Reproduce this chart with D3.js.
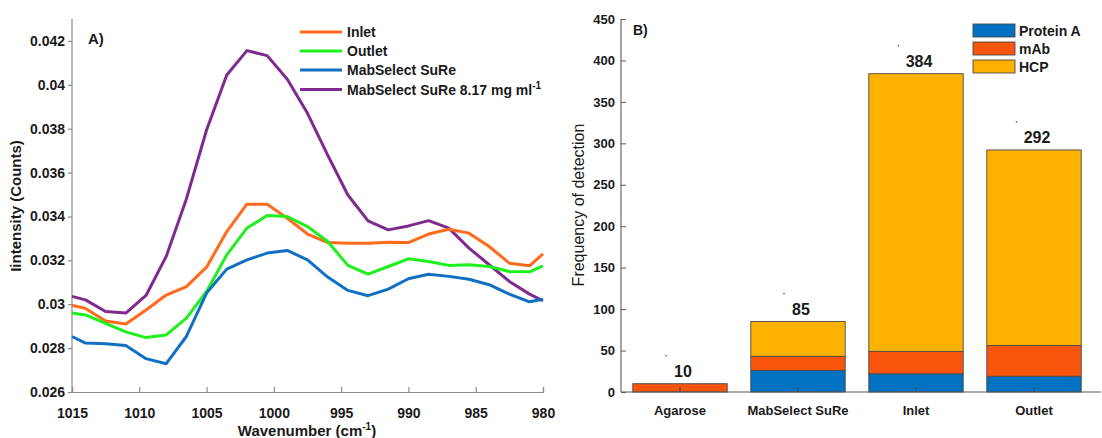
<!DOCTYPE html>
<html>
<head>
<meta charset="utf-8">
<script src="https://cdn.jsdelivr.net/npm/d3@7"></script>
<style>
  html, body { margin: 0; padding: 0; background: #fff; }
  svg { display: block; font-family: "Liberation Sans", Arial, sans-serif; }
  text { fill: #1a1a1a; }
</style>
</head>
<body>
<svg id="chart" width="1102" height="438"></svg>
<script>
// ---------- Panel A data ----------
const wavenumbers = [1015, 1014, 1012.5, 1011, 1009.5, 1008, 1006.5, 1005, 1003.5, 1002, 1000.5, 999,
  997.5, 996, 994.5, 993, 991.5, 990, 988.5, 987, 985.5, 984, 982.5, 981, 980];
const inlet = [0.02995, 0.02981, 0.02924, 0.02910, 0.02974, 0.03042, 0.03080, 0.03169, 0.03331, 0.03456, 0.03456, 0.03392,
  0.03320, 0.03281, 0.03278, 0.03278, 0.03283, 0.03281, 0.03320, 0.03342, 0.03324, 0.03263, 0.03187, 0.03175, 0.03230];
const outlet = [0.02960, 0.02951, 0.02913, 0.02874, 0.02848, 0.02860, 0.02937, 0.03058, 0.03225, 0.03347, 0.03404, 0.03400,
  0.03354, 0.03286, 0.03177, 0.03137, 0.03172, 0.03207, 0.03195, 0.03177, 0.03180, 0.03172, 0.03149, 0.03148, 0.03175];
const mabSelect = [0.02853, 0.02823, 0.02820, 0.02812, 0.02752, 0.02729, 0.02853, 0.03051, 0.03160, 0.03202, 0.03233, 0.03245,
  0.03202, 0.03124, 0.03063, 0.03039, 0.03069, 0.03116, 0.03137, 0.03127, 0.03114, 0.03089, 0.03046, 0.03011, 0.03023];
const mabSelectLoaded = [0.03036, 0.03020, 0.02967, 0.02960, 0.03040, 0.03218, 0.03480, 0.03794, 0.04045, 0.04156, 0.04133, 0.04025,
  0.03870, 0.03680, 0.03498, 0.03380, 0.03339, 0.03357, 0.03381, 0.03347, 0.03256, 0.03180, 0.03104, 0.03046, 0.03016];
const seriesNames = ["Inlet", "Outlet", "MabSelect SuRe", "MabSelect SuRe 8.17 mg ml"];
const seriesColors = ["#FF6A1C", "#1DF01D", "#1170C2", "#7E2A8E"];
const xTicksA = [1015, 1010, 1005, 1000, 995, 990, 985, 980];
const yTicksA = [0.026, 0.028, 0.03, 0.032, 0.034, 0.036, 0.038, 0.04, 0.042];
const yTickLabelsA = ["0.026", "0.028", "0.03", "0.032", "0.034", "0.036", "0.038", "0.04", "0.042"];

// ---------- Panel B data ----------
const categories = ["Agarose", "MabSelect SuRe", "Inlet", "Outlet"];
const proteinA = [0, 26, 22, 19];
const mAb = [10, 17, 27, 37];
const hcp = [0, 42, 335, 236];
const totals = [10, 85, 384, 292];
const stackKeys = ["Protein A", "mAb", "HCP"];
const stackColors = ["#0072C1", "#F8540C", "#FDB100"];
const yTicksB = [0, 50, 100, 150, 200, 250, 300, 350, 400, 450];

const svg = d3.select("#chart");
const axisGray = "#8a8a8a";

// ================= Panel A =================
const xA = d3.scaleLinear().domain([1015, 980]).range([72, 543]);
const yA = d3.scaleLinear().domain([0.026, 0.043]).range([392, 19]);
const gA = svg.append("g");

// axes
const xAxisA = d3.axisBottom(xA).tickValues(xTicksA).tickSize(-5).tickFormat(d3.format("d"));
const gxA = gA.append("g").attr("transform", "translate(0,392)").call(xAxisA);
gxA.select(".domain").attr("stroke", axisGray).attr("stroke-width", 1.2);
gxA.selectAll(".tick line").attr("stroke", axisGray).attr("stroke-width", 1.2);
gxA.selectAll(".tick text").attr("y", 16).attr("dy", "0.71em")
  .attr("font-size", 14).attr("font-weight", "bold").attr("fill", "#1a1a1a");

const yAxisA = d3.axisLeft(yA).tickValues(yTicksA).tickSize(4).tickPadding(3)
  .tickFormat((d, i) => yTickLabelsA[i]);
const gyA = gA.append("g").attr("transform", "translate(72,0)").call(yAxisA);
gyA.select(".domain").attr("stroke", axisGray).attr("stroke-width", 1.2).attr("d", "M0,392V19");
gyA.selectAll(".tick line").attr("stroke", axisGray).attr("stroke-width", 1.2);
gyA.selectAll(".tick text").attr("font-size", 14).attr("font-weight", "bold").attr("fill", "#1a1a1a");

// lines
const allSeries = [inlet, outlet, mabSelect, mabSelectLoaded];
const lineGen = d3.line().x((d, i) => xA(wavenumbers[i])).y(d => yA(d));
// draw order: purple first then others? keep order so overlaps look similar
const drawOrder = [3, 0, 1, 2];
drawOrder.forEach(k => {
  gA.append("path").datum(allSeries[k])
    .attr("d", lineGen)
    .attr("fill", "none")
    .attr("stroke", seriesColors[k])
    .attr("stroke-width", 3)
    .attr("stroke-linejoin", "round");
});

// panel label
gA.append("text").attr("x", 88).attr("y", 44).attr("font-size", 15).attr("font-weight", "bold").text("A)");

// legend A
const legA = gA.append("g");
const legRowsA = [32, 51, 70, 89.5];
seriesNames.forEach((name, i) => {
  legA.append("line").attr("x1", 300).attr("x2", 342).attr("y1", legRowsA[i]).attr("y2", legRowsA[i])
    .attr("stroke", seriesColors[i]).attr("stroke-width", 3);
  const t = legA.append("text").attr("x", 347).attr("y", legRowsA[i] + 5)
    .attr("font-size", 14).attr("font-weight", "bold").text(name);
  if (i === 3) {
    t.append("tspan").attr("font-size", 10).attr("dy", -6).text("-1");
  }
});

// axis titles A
const yTitleA = gA.append("text")
  .attr("transform", "translate(21,206) rotate(-90)")
  .attr("text-anchor", "middle").attr("font-size", 15).attr("font-weight", "bold")
  .text("Iintensity (Counts)");
const xTitleA = gA.append("text").attr("x", 307).attr("y", 436)
  .attr("text-anchor", "middle").attr("font-size", 15).attr("font-weight", "bold");
xTitleA.append("tspan").text("Wavenumber (cm");
xTitleA.append("tspan").attr("font-size", 10).attr("dy", -6).text("-1");
xTitleA.append("tspan").attr("dy", 6).text(")");

// ================= Panel B =================
const xB = d3.scaleBand().domain(categories).range([621, 1093]).paddingInner(0.2).paddingOuter(0.1);
const yB = d3.scaleLinear().domain([0, 450]).range([392, 19]);
const gB = svg.append("g");

const table = categories.map((c, i) => ({ cat: c, "Protein A": proteinA[i], "mAb": mAb[i], "HCP": hcp[i] }));
const stacked = d3.stack().keys(stackKeys)(table);

stacked.forEach((layer, k) => {
  gB.append("g").selectAll("rect").data(layer).join("rect")
    .attr("x", d => xB(d.data.cat))
    .attr("width", xB.bandwidth())
    .attr("y", d => yB(d[1]))
    .attr("height", d => Math.max(0, yB(d[0]) - yB(d[1])))
    .attr("fill", stackColors[k])
    .attr("stroke", d => (d[1] - d[0]) > 0 ? "#4a4a4a" : "none")
    .attr("stroke-width", 0.9);
});

// axes B
const yAxisB = d3.axisLeft(yB).tickValues(yTicksB).tickSize(-5).tickPadding(6);
const gyB = gB.append("g").attr("transform", "translate(621,0)").call(yAxisB);
gyB.select(".domain").attr("stroke", "#5a5a5a").attr("stroke-width", 1.1).attr("d", "M0,392V19");
gyB.selectAll(".tick line").attr("stroke", "#5a5a5a");
gyB.selectAll(".tick text").attr("font-size", 13).attr("font-weight", "bold").attr("fill", "#1a1a1a");

const xAxisB = d3.axisBottom(xB).tickSize(-5).tickPadding(0);
const gxB = gB.append("g").attr("transform", "translate(0,392)").call(xAxisB);
gxB.select(".domain").attr("stroke", "#5a5a5a").attr("stroke-width", 1.1).attr("d", "M621,0H1101");
gxB.selectAll(".tick line").attr("stroke", "#444");
gxB.selectAll(".tick text").attr("y", 14).attr("dy", "0.71em")
  .attr("font-size", 13).attr("font-weight", "bold").attr("fill", "#1a1a1a");

// totals labels
categories.forEach((c, i) => {
  const cx = xB(c) + xB.bandwidth() / 2 + 3;
  const by = yB(totals[i]) - 7;
  gB.append("text").attr("x", cx).attr("y", by).attr("text-anchor", "middle")
    .attr("font-size", 16).attr("font-weight", "bold").text(totals[i]);
  const w = String(totals[i]).length;
  gB.append("circle").attr("cx", cx - 10 - w * 3.5).attr("cy", by - 21).attr("r", 0.8).attr("fill", "#444");
});

// panel label B
gB.append("text").attr("x", 633).attr("y", 35).attr("font-size", 14).attr("font-weight", "bold").text("B)");

// y title B
gB.append("text").attr("transform", "translate(584,205) rotate(-90)")
  .attr("text-anchor", "middle").attr("font-size", 16).text("Frequency of detection");

// legend B
const legRowsB = [30.5, 48.5, 66.5];
stackKeys.forEach((k, i) => {
  gB.append("rect").attr("x", 973).attr("y", legRowsB[i] - 6.5).attr("width", 42).attr("height", 13)
    .attr("fill", stackColors[i]).attr("stroke", "#4a4a4a").attr("stroke-width", 0.9);
  gB.append("text").attr("x", 1019).attr("y", legRowsB[i] + 5)
    .attr("font-size", 14).attr("font-weight", "bold").text(k);
});
</script>
</body>
</html>
